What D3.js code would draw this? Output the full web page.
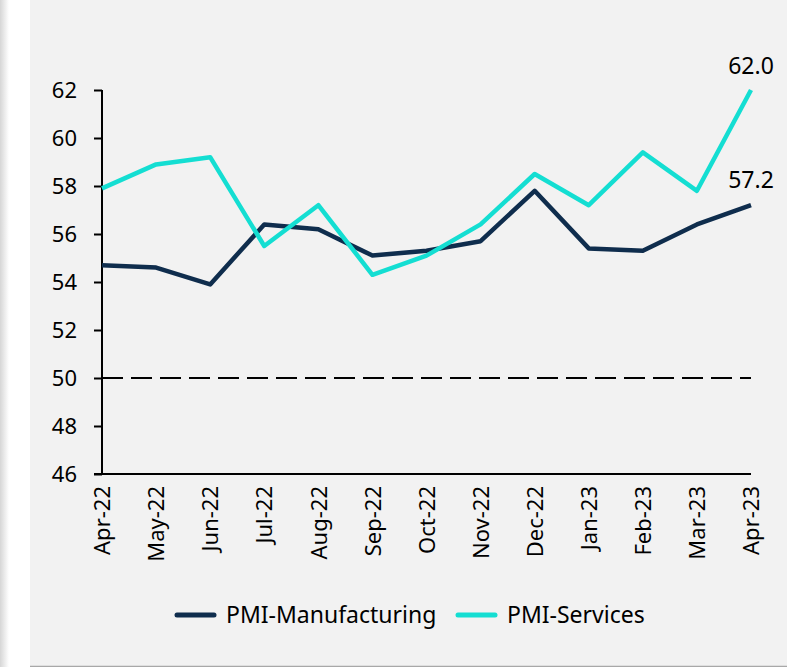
<!DOCTYPE html>
<html>
<head>
<meta charset="utf-8">
<script src="https://cdn.jsdelivr.net/npm/d3@7"></script>
<style>
  html, body { margin: 0; padding: 0; background: #ffffff; }
  svg { display: block; font-family: "Noto Sans", "Open Sans", sans-serif; }
</style>
</head>
<body>
<script>
// data
const months = ["Apr-22", "May-22", "Jun-22", "Jul-22", "Aug-22", "Sep-22", "Oct-22",
                "Nov-22", "Dec-22", "Jan-23", "Feb-23", "Mar-23", "Apr-23"];
const manufacturing = [54.7, 54.6, 53.9, 56.4, 56.2, 55.1, 55.3, 55.7, 57.8, 55.4, 55.3, 56.4, 57.2];
const services = [57.9, 58.9, 59.2, 55.5, 57.2, 54.3, 55.1, 56.4, 58.5, 57.2, 59.4, 57.8, 62.0];
const yTicks = [46, 48, 50, 52, 54, 56, 58, 60, 62];
const seriesNames = ["PMI-Manufacturing", "PMI-Services"];
const threshold = 50;

const width = 787, height = 667;
const navy = "#0f2d4d", cyan = "#14ded2";

const svg = d3.select("body").append("svg")
  .attr("width", width)
  .attr("height", height);

// soft shadow on the far left
const defs = svg.append("defs");
const grad = defs.append("linearGradient").attr("id", "lshadow");
grad.append("stop").attr("offset", "0%").attr("stop-color", "#d6d6d6");
grad.append("stop").attr("offset", "100%").attr("stop-color", "#ffffff");
svg.append("rect").attr("x", 0).attr("y", 0).attr("width", 9).attr("height", height)
  .attr("fill", "url(#lshadow)");

// panel
svg.append("rect")
  .attr("x", 30).attr("y", 0)
  .attr("width", width - 30).attr("height", 666)
  .attr("fill", "#f2f2f2");
svg.append("line")
  .attr("x1", 30).attr("x2", width)
  .attr("y1", 666.5).attr("y2", 666.5)
  .attr("stroke", "#a8a8a8").attr("stroke-width", 1.5);

const x = d3.scalePoint().domain(months).range([102, 751]);
const y = d3.scaleLinear().domain([46, 62]).range([474, 90]);

// y axis
const yAxis = svg.append("g")
  .attr("transform", "translate(102,0)")
  .call(d3.axisLeft(y).tickValues(yTicks).tickSize(8).tickPadding(17).tickFormat(d3.format("d")));
yAxis.select(".domain").attr("stroke", "#000").attr("stroke-width", 2).attr("d", "M0," + y(62) + "V" + y(46));
yAxis.selectAll(".tick line").attr("stroke", "#000").attr("stroke-width", 2);
yAxis.selectAll(".tick text").attr("font-size", 22).attr("fill", "#000")
  .attr("font-family", "Noto Sans");

// x axis
const xAxis = svg.append("g")
  .attr("transform", "translate(0,474)")
  .call(d3.axisBottom(x).tickSize(0).tickPadding(0));
xAxis.select(".domain").attr("stroke", "#000").attr("stroke-width", 2)
  .attr("d", "M94,0H" + x("Apr-23"));
xAxis.selectAll(".tick text")
  .attr("font-size", 22).attr("fill", "#000").attr("font-family", "Noto Sans")
  .attr("transform", "rotate(-90)")
  .attr("text-anchor", "end")
  .attr("x", -12).attr("y", 0).attr("dy", "0.35em");

// 50 threshold
svg.append("line")
  .attr("x1", 102).attr("x2", x("Apr-23"))
  .attr("y1", y(threshold)).attr("y2", y(threshold))
  .attr("stroke", "#000").attr("stroke-width", 2)
  .attr("stroke-dasharray", "21,8");

const line = d3.line().x((d, i) => x(months[i])).y(d => y(d));

svg.append("path").datum(manufacturing)
  .attr("d", line).attr("fill", "none")
  .attr("stroke", navy).attr("stroke-width", 4.5)
  .attr("stroke-linejoin", "round");

svg.append("path").datum(services)
  .attr("d", line).attr("fill", "none")
  .attr("stroke", cyan).attr("stroke-width", 4.5)
  .attr("stroke-linejoin", "round");

// end labels
const last = months.length - 1;
[[services, 16], [manufacturing, 17]].forEach(([s, off]) => {
  svg.append("text")
    .attr("x", x(months[last]))
    .attr("y", y(s[last]) - off)
    .attr("text-anchor", "middle")
    .attr("font-size", 23)
    .attr("fill", "#000")
    .text(d3.format(".1f")(s[last]));
});

// legend
const legend = svg.append("g");
const legendX = [177, 458];
[navy, cyan].forEach((c, i) => {
  legend.append("line")
    .attr("x1", legendX[i]).attr("x2", legendX[i] + 37)
    .attr("y1", 615).attr("y2", 615)
    .attr("stroke", c).attr("stroke-width", 5).attr("stroke-linecap", "round");
  legend.append("text")
    .attr("x", legendX[i] + 49).attr("y", 615).attr("dy", "0.35em")
    .attr("font-size", 23).attr("fill", "#000")
    .text(seriesNames[i]);
});
</script>
</body>
</html>
